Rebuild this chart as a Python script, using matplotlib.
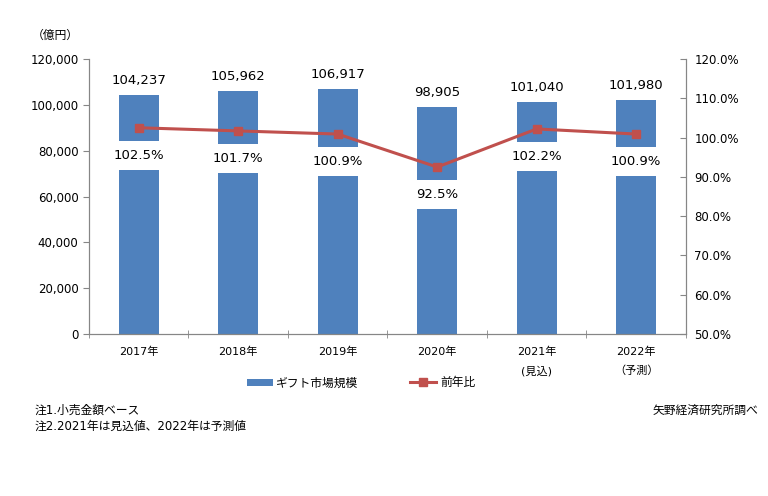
import matplotlib.pyplot as plt
from matplotlib.ticker import FuncFormatter

plt.rcParams['font.family'] = ['DejaVu Sans', 'Noto Sans CJK JP']

years = ["2017年", "2018年", "2019年", "2020年", "2021年\n(見込)", "2022年\n（予測）"]
market = [104237, 105962, 106917, 98905, 101040, 101980]
yoy = [102.5, 101.7, 100.9, 92.5, 102.2, 100.9]

BAR = "#4F81BD"
LINE = "#C0504D"
AXIS = "#868686"

fig = plt.figure(figsize=(7.68, 4.96), dpi=100)
ax = fig.add_axes([0.1159, 0.3266, 0.7772, 0.5544])
ax2 = ax.twinx()

x = list(range(len(years)))
ax.bar(x, market, width=0.4, color=BAR, label="ギフト市場規模", zorder=2)
ax.set_xlim(-0.5, len(years) - 0.5)
ax.set_ylim(0, 120000)
ax.set_yticks(range(0, 120001, 20000))
ax.yaxis.set_major_formatter(FuncFormatter(lambda v, p: f"{int(v):,}"))
for xi, v in zip(x, market):
    ax.annotate(f"{v:,}", (xi, v), xytext=(0, 6), textcoords="offset points",
                ha="center", va="bottom", fontsize=9.5)

ax2.plot(x, yoy, color=LINE, lw=2.2, marker="s", ms=5.5, label="前年比", zorder=5)
ax2.set_ylim(50, 120)
ax2.set_yticks(range(50, 121, 10))
ax2.yaxis.set_major_formatter(FuncFormatter(lambda v, p: f"{v:.1f}%"))
for xi, v in zip(x, yoy):
    ax2.annotate(f"{v:.1f}%", (xi, v), xytext=(0, -20), textcoords="offset points",
                 ha="center", va="center", fontsize=9.5, zorder=4,
                 bbox=dict(boxstyle="square,pad=0.6", fc="white", ec="none"))

# axes styling
ax.set_xticks(x)
ax.set_xticklabels(years, fontsize=8, linespacing=2.0)
ax.set_xticks([i - 0.5 for i in range(len(years) + 1)], minor=True)
ax.tick_params(axis="x", which="major", length=0, pad=9)
ax.tick_params(axis="x", which="minor", length=6, direction="inout", color=AXIS)
ax.tick_params(axis="y", labelsize=8.5, length=4, color=AXIS, direction="out")
ax2.tick_params(axis="y", labelsize=8.5, length=4, color=AXIS, direction="in", pad=6)
for a in (ax, ax2):
    a.spines["top"].set_visible(False)
    for s in ("left", "right", "bottom"):
        a.spines[s].set_color(AXIS)

h1, l1 = ax.get_legend_handles_labels()
h2, l2 = ax2.get_legend_handles_labels()
fig.legend(h1 + h2, l1 + l2, loc="center", bbox_to_anchor=(0.47, 0.228), ncol=2,
           frameon=False, fontsize=8.5, handlelength=2.2, handleheight=0.6,
           columnspacing=4.4, handletextpad=0.3)

fig.text(0.072, 0.928, "（億円）", fontsize=8.5, ha="center", va="center")
fig.text(0.045, 0.173, "注1.小売金額ベース", fontsize=8.5, va="center")
fig.text(0.045, 0.140, "注2.2021年は見込値、2022年は予測値", fontsize=8.5, va="center")
fig.text(0.987, 0.173, "矢野経済研究所調べ", fontsize=8.5, ha="right", va="center")

fig.savefig("out.png", dpi=100)
